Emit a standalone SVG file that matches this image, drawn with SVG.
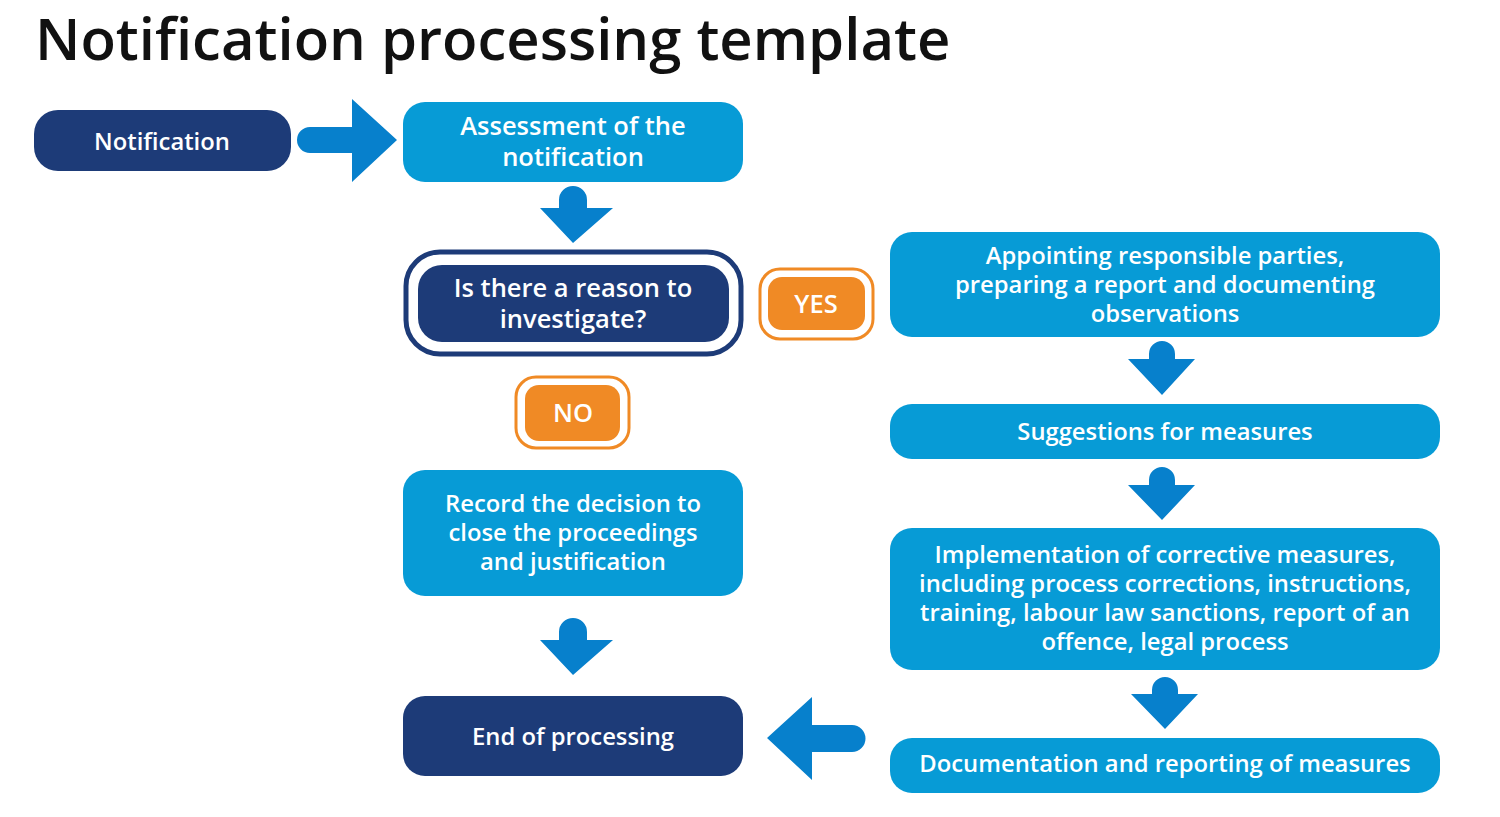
<svg xmlns="http://www.w3.org/2000/svg" width="1500" height="817" viewBox="0 0 1500 817">
<style>
.t{font-family:"Open Sans","Noto Sans",sans-serif;font-weight:600;fill:#fff;text-anchor:middle;font-size:23.8px}
.l{font-size:25.5px}
.navy{fill:#1d3b78}
.blue{fill:#079bd6}
.org{fill:#f08a25}
.arr{fill:#0780cc}
</style>
<rect width="1500" height="817" fill="#fff"/>
<text x="35" y="60" font-family="'Open Sans','Noto Sans',sans-serif" font-weight="600" font-size="58" fill="#111">Notification processing template</text>

<g id="connectors">
<path class="arr" d="M310,127 H352 V99 L397,140 L352,182 V153 H310 A13,13 0 0 1 310,127 Z"/>
<path class="arr" d="M559,200 A14,14 0 0 1 587,200 V208 H613 L573,243 L540,208 H559 Z"/>
<path class="arr" d="M559,632 A14,14 0 0 1 587,632 V640 H613 L573,675 L540,640 H559 Z"/>
<path class="arr" d="M1149,354 A13,13 0 0 1 1175,354 V359 H1195 L1162,395 L1128,359 H1149 Z"/>
<path class="arr" d="M1149,480 A13,13 0 0 1 1175,480 V485 H1195 L1162,520 L1128,485 H1149 Z"/>
<path class="arr" d="M1152,690 A13,13 0 0 1 1178,690 V694 H1198 L1165,729 L1131,694 H1152 Z"/>
<path class="arr" d="M852,725 A13.5,13.5 0 0 1 852,752 H812 V780 L767,738 L812,697 V725 Z"/>
</g>

<g id="notification">
<rect class="navy" x="34" y="110" width="257" height="61" rx="24"/>
<text class="t" x="162" y="150" font-size="28.5">Notification</text>
</g>
<g id="assessment">
<rect class="blue" x="403" y="102" width="340" height="80" rx="22"/>
<text class="t l" x="573" y="135">Assessment of the</text>
<text class="t l" x="573" y="166">notification</text>
</g>
<g id="question">
<rect x="406" y="252" width="335" height="102" rx="34" fill="#fff" stroke="#1d3b78" stroke-width="5"/>
<rect class="navy" x="418" y="265" width="311" height="77" rx="24"/>
<text class="t l" x="573" y="297">Is there a reason to</text>
<text class="t l" x="573" y="328">investigate?</text>
</g>
<g id="yes">
<rect x="760" y="269" width="113" height="70" rx="20" fill="#fff" stroke="#f08a25" stroke-width="3"/>
<rect class="org" x="768" y="277" width="97" height="53" rx="14"/>
<text class="t l" x="816" y="313">YES</text>
</g>
<g id="no">
<rect x="516" y="377" width="113" height="71" rx="20" fill="#fff" stroke="#f08a25" stroke-width="3"/>
<rect class="org" x="525" y="385" width="95" height="56" rx="14"/>
<text class="t l" x="573" y="422">NO</text>
</g>
<g id="record">
<rect class="blue" x="403" y="470" width="340" height="126" rx="22"/>
<text class="t" x="573" y="512">Record the decision to</text>
<text class="t" x="573" y="541">close the proceedings</text>
<text class="t" x="573" y="570">and justification</text>
</g>
<g id="end">
<rect class="navy" x="403" y="696" width="340" height="80" rx="22"/>
<text class="t" x="573" y="745" font-size="28.5">End of processing</text>
</g>
<g id="appointing">
<rect class="blue" x="890" y="232" width="550" height="105" rx="22"/>
<text class="t" x="1165" y="264">Appointing responsible parties,</text>
<text class="t" x="1165" y="293">preparing a report and documenting</text>
<text class="t" x="1165" y="322">observations</text>
</g>
<g id="suggestions">
<rect class="blue" x="890" y="404" width="550" height="55" rx="22"/>
<text class="t" x="1165" y="440">Suggestions for measures</text>
</g>
<g id="implementation">
<rect class="blue" x="890" y="528" width="550" height="142" rx="22"/>
<text class="t" x="1165" y="563">Implementation of corrective measures,</text>
<text class="t" x="1165" y="592">including process corrections, instructions,</text>
<text class="t" x="1165" y="621">training, labour law sanctions, report of an</text>
<text class="t" x="1165" y="650">offence, legal process</text>
</g>
<g id="documentation">
<rect class="blue" x="890" y="738" width="550" height="55" rx="22"/>
<text class="t" x="1165" y="772" font-size="24.2">Documentation and reporting of measures</text>
</g>
</svg>
